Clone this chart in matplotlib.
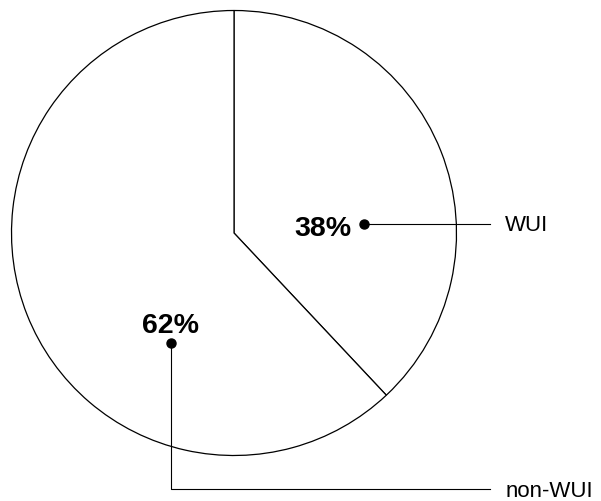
import matplotlib
matplotlib.use('Agg')
import matplotlib.pyplot as plt

# shares of area, clockwise from 12 o'clock
labels = ['WUI', 'non-WUI']
shares = [38, 62]
pct_text = ['38%', '62%']

plt.rcParams['font.family'] = ['Liberation Sans', 'DejaVu Sans']

fig = plt.figure(figsize=(6.01, 5.01), dpi=100)
ax = fig.add_axes([0, 0, 1, 1])

ax.pie(shares, startangle=90, counterclock=False, radius=1,
       colors=['white', 'white'],
       wedgeprops=dict(edgecolor='black', linewidth=0.9))

ax.set_xlim(-1.0517, 1.6494)
ax.set_ylim(-1.2045, 1.0472)
ax.set_aspect('equal')
ax.axis('off')

# WUI label: dot, straight leader to the right
ax.plot([0.584, 1.1506], [0.0404, 0.0404], color='black', lw=0.8)
ax.plot(0.584, 0.0404, 'o', color='black', ms=6.5)
ax.text(0.526, -0.0135, pct_text[0], ha='right', va='baseline',
        fontsize=20.5, fontweight='bold')
ax.text(1.218, 0.009, labels[0], ha='left', va='baseline', fontsize=16)

# non-WUI label: dot, elbow leader down and right
ax.plot([-0.2831, -0.2831, 1.1506], [-0.494, -1.1506, -1.1506],
        color='black', lw=0.8)
ax.plot(-0.2831, -0.494, 'o', color='black', ms=6.5)
ax.text(-0.2876, -0.449, pct_text[1], ha='center', va='baseline',
        fontsize=20.5, fontweight='bold')
ax.text(1.222, -1.186, labels[1], ha='left', va='baseline', fontsize=16)

fig.savefig('out.png', dpi=100, facecolor='white')
